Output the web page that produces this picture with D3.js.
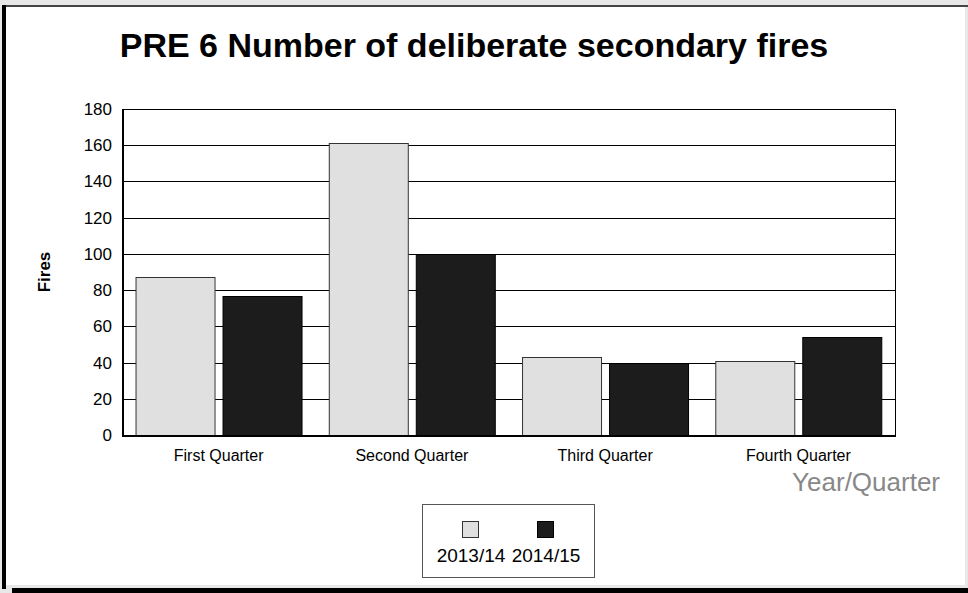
<!DOCTYPE html>
<html><head><meta charset="utf-8">
<script src="https://cdn.jsdelivr.net/npm/d3@7"></script>
<style>html,body{margin:0;padding:0;background:#e8e8e8;}svg{display:block;font-family:"Liberation Sans",Arial,sans-serif;}</style>
</head><body>
<svg id="c" width="968" height="593"></svg>
<script>
const categories = ["First Quarter","Second Quarter","Third Quarter","Fourth Quarter"];
const seriesNames = ["2013/14","2014/15"];
const values2013 = [87,161,43,41];
const values2014 = [77,100,40,54];
const yTicks = [0,20,40,60,80,100,120,140,160,180];
const colors = ["#e0e0e0","#1c1c1c"];
const strokes = ["#333","#000"];

const svg = d3.select("#c");
// panel frame
svg.append("rect").attr("x",0).attr("y",0).attr("width",968).attr("height",593).attr("fill","#e8e8e8");
svg.append("rect").attr("x",6).attr("y",7).attr("width",959).attr("height",578).attr("fill","#fff");
svg.append("rect").attr("x",3).attr("y",5).attr("width",965).attr("height",2).attr("fill","#444");
svg.append("rect").attr("x",2).attr("y",5).attr("width",4).attr("height",584).attr("fill","#000");
svg.append("rect").attr("x",12).attr("y",588).attr("width",956).attr("height",5).attr("fill","#000");

const L=122, R=895, T=109, B=435;
const x = d3.scaleBand().domain(categories).range([L,R]).paddingInner(0.14).paddingOuter(0.07);
const x1 = d3.scaleBand().domain(seriesNames).range([0,x.bandwidth()]).paddingInner(0.092);
const y = d3.scaleLinear().domain([0,180]).range([B,T]);

// gridlines
svg.append("g").selectAll("line").data(yTicks).join("line")
  .attr("x1",L).attr("x2",R).attr("y1",d=>Math.round(y(d))+0.5).attr("y2",d=>Math.round(y(d))+0.5)
  .attr("stroke","#000").attr("stroke-width",1);

// y axis labels
const yAxis = d3.axisLeft(y).tickValues(yTicks).tickSize(0).tickPadding(10);
const ga = svg.append("g").attr("transform",`translate(${L},0)`).call(yAxis);
ga.select(".domain").remove();
ga.selectAll("text").attr("font-size",17).attr("fill","#000").attr("font-family","Liberation Sans, Arial, sans-serif");

// bars
const data = categories.map((c,i)=>({c, v:[values2013[i],values2014[i]]}));
const g = svg.append("g").selectAll("g").data(data).join("g").attr("transform",d=>`translate(${x(d.c)},0)`);
g.selectAll("rect").data(d=>d.v.map((v,j)=>({v,s:seriesNames[j],j}))).join("rect")
  .attr("x",d=>Math.round(x1(d.s))+0.5).attr("width",d=>Math.round(x1.bandwidth()))
  .attr("y",d=>Math.round(y(d.v))+0.5).attr("height",d=>B-Math.round(y(d.v)))
  .attr("fill",d=>colors[d.j]).attr("stroke",d=>strokes[d.j]).attr("stroke-width",1);

// plot frame
svg.append("rect").attr("x",L+0.5).attr("y",T+0.5).attr("width",R-L).attr("height",B-T)
  .attr("fill","none").attr("stroke","#000").attr("stroke-width",1);
svg.append("line").attr("x1",L).attr("x2",R+1).attr("y1",B+1).attr("y2",B+1).attr("stroke","#000").attr("stroke-width",2);
svg.append("line").attr("x1",L+1).attr("x2",L+1).attr("y1",T).attr("y2",B+2).attr("stroke","#000").attr("stroke-width",2);

// x axis labels
const xAxis = d3.axisBottom(x).tickSize(0).tickPadding(15);
const gx = svg.append("g").attr("transform",`translate(0,${B})`).call(xAxis);
gx.select(".domain").remove();
gx.selectAll("text").attr("font-size",16).attr("fill","#000").attr("font-family","Liberation Sans, Arial, sans-serif");

// title
svg.append("text").attr("x",474).attr("y",57).attr("text-anchor","middle")
  .attr("font-size",34).attr("font-weight","bold").attr("fill","#000").text("PRE 6 Number of deliberate secondary fires");
// y title
svg.append("text").attr("transform","translate(50,272) rotate(-90)").attr("text-anchor","middle")
  .attr("font-size",17).attr("font-weight","bold").text("Fires");
// x title
svg.append("text").attr("x",940).attr("y",491).attr("text-anchor","end")
  .attr("font-size",26).attr("fill","#888").text("Year/Quarter");

// legend
const lg = svg.append("g");
lg.append("rect").attr("x",422.5).attr("y",504.5).attr("width",172).attr("height",73).attr("fill","#fff").attr("stroke","#555");
const legX = d3.scalePoint().domain(seriesNames).range([471,546]);
seriesNames.forEach((s,j)=>{
  lg.append("rect").attr("x",legX(s)-8.5).attr("y",521.5).attr("width",16).attr("height",16)
    .attr("fill",colors[j]).attr("stroke",strokes[j]);
  lg.append("text").attr("x",legX(s)).attr("y",562).attr("text-anchor","middle").attr("font-size",19).text(s);
});
</script>
</body></html>
